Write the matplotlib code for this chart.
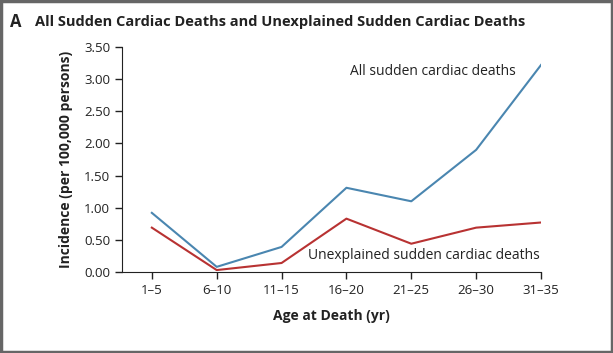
import matplotlib.pyplot as plt
from matplotlib.patches import Rectangle

age_groups = ["1\u20135", "6\u201310", "11\u201315", "16\u201320", "21\u201325", "26\u201330", "31\u201335"]
all_scd = [0.92, 0.08, 0.39, 1.31, 1.10, 1.90, 3.22]
unexplained_scd = [0.69, 0.03, 0.14, 0.83, 0.44, 0.69, 0.77]
y_ticks = [0.0, 0.5, 1.0, 1.5, 2.0, 2.5, 3.0, 3.5]

plt.rcParams['font.family'] = ['Open Sans', 'DejaVu Sans']

fig = plt.figure(figsize=(6.13, 3.53), dpi=100)
ax = fig.add_axes([122 / 613, 1 - 272 / 353, (541 - 122) / 613, (272 - 47) / 353])

x = range(len(age_groups))
ax.plot(x, all_scd, color="#4a86b0", lw=1.5)
ax.plot(x, unexplained_scd, color="#b83232", lw=1.5)

ax.set_xlim(-0.46, 6)
ax.set_ylim(0, 3.5)
ax.set_xticks(list(x))
ax.set_xticklabels(age_groups, fontsize=9.5)
ax.set_yticks(y_ticks)
ax.set_yticklabels([f"{v:.2f}" for v in y_ticks], fontsize=9.5)
ax.tick_params(length=5, width=1, color="#222222", labelcolor="#222222")
for s in ["top", "right"]:
    ax.spines[s].set_visible(False)
for s in ["left", "bottom"]:
    ax.spines[s].set_color("#222222")

ax.set_xlabel("Age at Death (yr)", fontsize=10, fontweight="bold", labelpad=9, color="#222222")
ax.set_ylabel("Incidence (per 100,000 persons)", fontsize=10, fontweight="bold", labelpad=8, color="#222222")

ax.text(3.05, 3.12, "All sudden cardiac deaths", fontsize=10, color="#222222", va="center")
ax.text(2.4, 0.26, "Unexplained sudden cardiac deaths", fontsize=10, color="#222222", va="center")

fig.text(10 / 613, 1 - 22 / 353, "A", fontsize=12, fontweight="bold", color="#222222", va="center")
fig.text(35 / 613, 1 - 22 / 353, "All Sudden Cardiac Deaths and Unexplained Sudden Cardiac Deaths",
         fontsize=10.5, fontweight="bold", color="#222222", va="center")

fig.patches.append(Rectangle((0.002, 0.003), 0.996, 0.994, transform=fig.transFigure,
                             fill=False, edgecolor="#666666", lw=2.5))

fig.savefig("out.png", dpi=100)
